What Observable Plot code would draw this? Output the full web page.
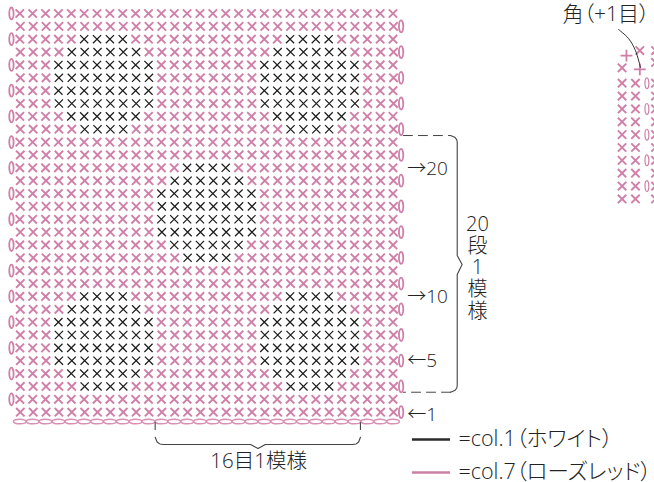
<!DOCTYPE html>
<html>
<head>
<meta charset="utf-8">
<script src="https://cdn.jsdelivr.net/npm/d3@7"></script>
<script src="https://cdn.jsdelivr.net/npm/@observablehq/plot@0.6"></script>
<style>
html,body{margin:0;padding:0;background:#fff;overflow:hidden}
svg{display:block}
</style>
</head>
<body>
<div id="chart"></div>
<script>
// --- stitch grid (columns and rows counted from the top-left stitch)
const columnCount = 30;
const rowCount = 32;
// a motif: per motif row, first and last stitch column relative to the motif
const motifSpans = [[2,5],[1,6],[0,7],[0,7],[0,7],[0,7],[1,6],[2,5]];
const motifOrigins = [
  {row:2,col:3},{row:2,col:19},
  {row:12,col:11},
  {row:22,col:3},{row:22,col:19}
];
// --- side swatch: edge of the next panel
const swatchRows = [5.42,6.42,7.42,8.42,9.42,10.42,11.42,12.42,13.42,14.42];
const swatchCols = [46.8,47.84];
const swatchLoopCol = 48.73;
const swatchLoopRows = [5.42,7.42,9.42,11.42,13.42];
const swatchClippedCol = 49.4;
const swatchClippedRows = [2.88,3.81,5.42,6.42,7.42,8.42,9.42,10.42,11.42,12.42,13.42,14.42];
const cornerTimes = [{col:46.8,row:4.22},{col:48.18,row:2.88}];
const cornerPlus = [{col:47.14,row:3.27},{col:48.18,row:4.35}];
const leader = [{col:46.52,row:1.24},{col:47.3,row:1.94},{col:47.84,row:2.88},{col:48.23,row:4.2}];
// --- annotations
const rowLabels = [{text:"→20",row:12.05},{text:"→10",row:22},{text:"←5",row:27},{text:"←1",row:31.2}];
const sideLabelLines = ["20","段","1","模","様"];
const repeatBraceDash = [
  {col:29.81,row:9.49,z:"a"},{col:33.47,row:9.49,z:"a"},
  {col:33.47,row:29.45,z:"b"},{col:29.81,row:29.45,z:"b"}
];
const repeatBrace = [
  [33.47,9.49],[33.8,9.62],[33.95,9.8],[33.99,10.01],[33.99,18.82],[34.37,19.52],[33.99,20.3],
  [33.99,28.93],[33.95,29.14],[33.8,29.32],[33.47,29.45]
];
const widthBrace = [
  [10.52,32.95],[10.67,33.32],[10.88,33.47],[11.17,33.52],[17.93,33.52],[18.51,33.83],[19.08,33.52],
  [25.85,33.52],[26.14,33.47],[26.33,33.32],[26.47,32.95]
];
const widthTicks = [
  {col:10.52,row:31.8,z:"l"},{col:10.52,row:32.35,z:"l"},
  {col:26.47,row:31.8,z:"r"},{col:26.47,row:32.35,z:"r"}
];
const legendRows = [
  {label:"=col.1（ホワイト）",row:33.13,color:"#2b2b2b"},
  {label:"=col.7（ローズレッド）",row:35.69,color:"#cb7fa6"}
];

// --- derive stitches
const dark = new Set();
for (const m of motifOrigins) motifSpans.forEach(([a,b],i)=>{
  for (let c=a;c<=b;c++) dark.add((m.row+i)+":"+(m.col+c));
});
const stitches = [];
for (let r=0;r<rowCount;r++) for (let c=0;c<columnCount;c++){
  stitches.push({col:c+(r%2?0.04:0),row:r,dark:dark.has(r+":"+c)});
}
const rows = d3.range(rowCount);
const loops = rows.map(r=>({row:r,col:r%2?29.63:-0.65}));
const chain = d3.range(columnCount).map(c=>({col:c,row:31.73}));
const swatch = swatchRows.flatMap(row=>swatchCols.map(col=>({col,row})));

function ellipseSymbol(kx,ky){
  return {draw(ctx,size){
    const r=Math.sqrt(size/Math.PI),a=r*kx,b=r*ky,k=0.5523;
    ctx.moveTo(a,0);
    ctx.bezierCurveTo(a,b*k,a*k,b,0,b);
    ctx.bezierCurveTo(-a*k,b,-a,b*k,-a,0);
    ctx.bezierCurveTo(-a,-b*k,-a*k,-b,0,-b);
    ctx.bezierCurveTo(a*k,-b,a,-b*k,a,0);
    ctx.closePath();
  }};
}
const tallLoop = ellipseSymbol(0.36,1);
const wideLoop = ellipseSymbol(1,0.36);
const pink="#cf7fa8", paleChain="#d88fb4", ink="#222222";
const font="'Open Sans','Noto Sans CJK JP',sans-serif";
const pinkX={symbol:"times",r:3.9,stroke:pink,strokeWidth:1.9};

const chart = Plot.plot({
  width:654,height:482,
  marginTop:0,marginRight:0,marginBottom:0,marginLeft:0,
  x:{domain:[-1.4996,49.32],range:[0,654],axis:null},
  y:{domain:[-1.0109,36.47],range:[0,482],axis:null},
  style:{background:"#fff",fontFamily:font,overflow:"hidden",fontWeight:300,fontFeatureSettings:'"palt"'},
  marks:[
    Plot.dot(stitches.filter(d=>!d.dark),{x:"col",y:"row",...pinkX}),
    Plot.dot(stitches.filter(d=>d.dark),{x:"col",y:"row",symbol:"times",r:3.8,stroke:"#1c1c1c",strokeWidth:1.25}),
    Plot.dot(loops,{x:"col",y:"row",symbol:tallLoop,r:6,stroke:pink,strokeWidth:1.8,fill:"none"}),
    Plot.dot(chain,{x:"col",y:"row",symbol:wideLoop,r:6.4,stroke:paleChain,strokeWidth:1.5,fill:"none"}),
    Plot.dot(swatch,{x:"col",y:"row",...pinkX}),
    Plot.dot(cornerTimes,{x:"col",y:"row",...pinkX}),
    Plot.dot(cornerPlus,{x:"col",y:"row",symbol:"plus",r:3.9,stroke:pink,strokeWidth:1.8}),
    Plot.dot(swatchLoopRows,{x:swatchLoopCol,y:d=>d,symbol:tallLoop,r:5.4,stroke:pink,strokeWidth:1.2,fill:"none"}),
    Plot.dot(swatchClippedRows,{x:swatchClippedCol,y:d=>d,...pinkX}),
    Plot.line(leader,{x:"col",y:"row",curve:"catmull-rom",stroke:"#333",strokeWidth:1}),
    Plot.line(repeatBraceDash,{x:"col",y:"row",z:"z",stroke:"#444",strokeWidth:1,strokeDasharray:"9 6"}),
    Plot.line(repeatBrace,{x:d=>d[0],y:d=>d[1],stroke:"#444",strokeWidth:1.1}),
    Plot.line(widthBrace,{x:d=>d[0],y:d=>d[1],stroke:"#444",strokeWidth:1.1}),
    Plot.line(widthTicks,{x:"col",y:"row",z:"z",stroke:"#444",strokeWidth:1.1}),
    Plot.text(rowLabels,{x:30.1,y:"row",text:"text",textAnchor:"start",fontSize:19,fill:ink}),
    Plot.text([sideLabelLines.join("\n")],{x:35.56,y:19.75,text:d=>d,textAnchor:"middle",lineAnchor:"middle",fontSize:20,lineHeight:1.08,fill:ink}),
    Plot.text(["16目1模様"],{x:18.56,y:34.84,text:d=>d,textAnchor:"middle",fontSize:20.5,fill:ink}),
    Plot.text(["角（+1目）"],{x:42.17,y:0.08,text:d=>d,textAnchor:"start",fontSize:21,fill:ink}),
    Plot.ruleY(legendRows,{x1:30.51,x2:33.47,y:"row",stroke:"color",strokeWidth:2.6}),
    Plot.text(legendRows,{x:34.09,y:"row",text:"label",textAnchor:"start",fontSize:21.5,fill:ink})
  ]
});
document.getElementById("chart").append(chart);
</script>
</body>
</html>
